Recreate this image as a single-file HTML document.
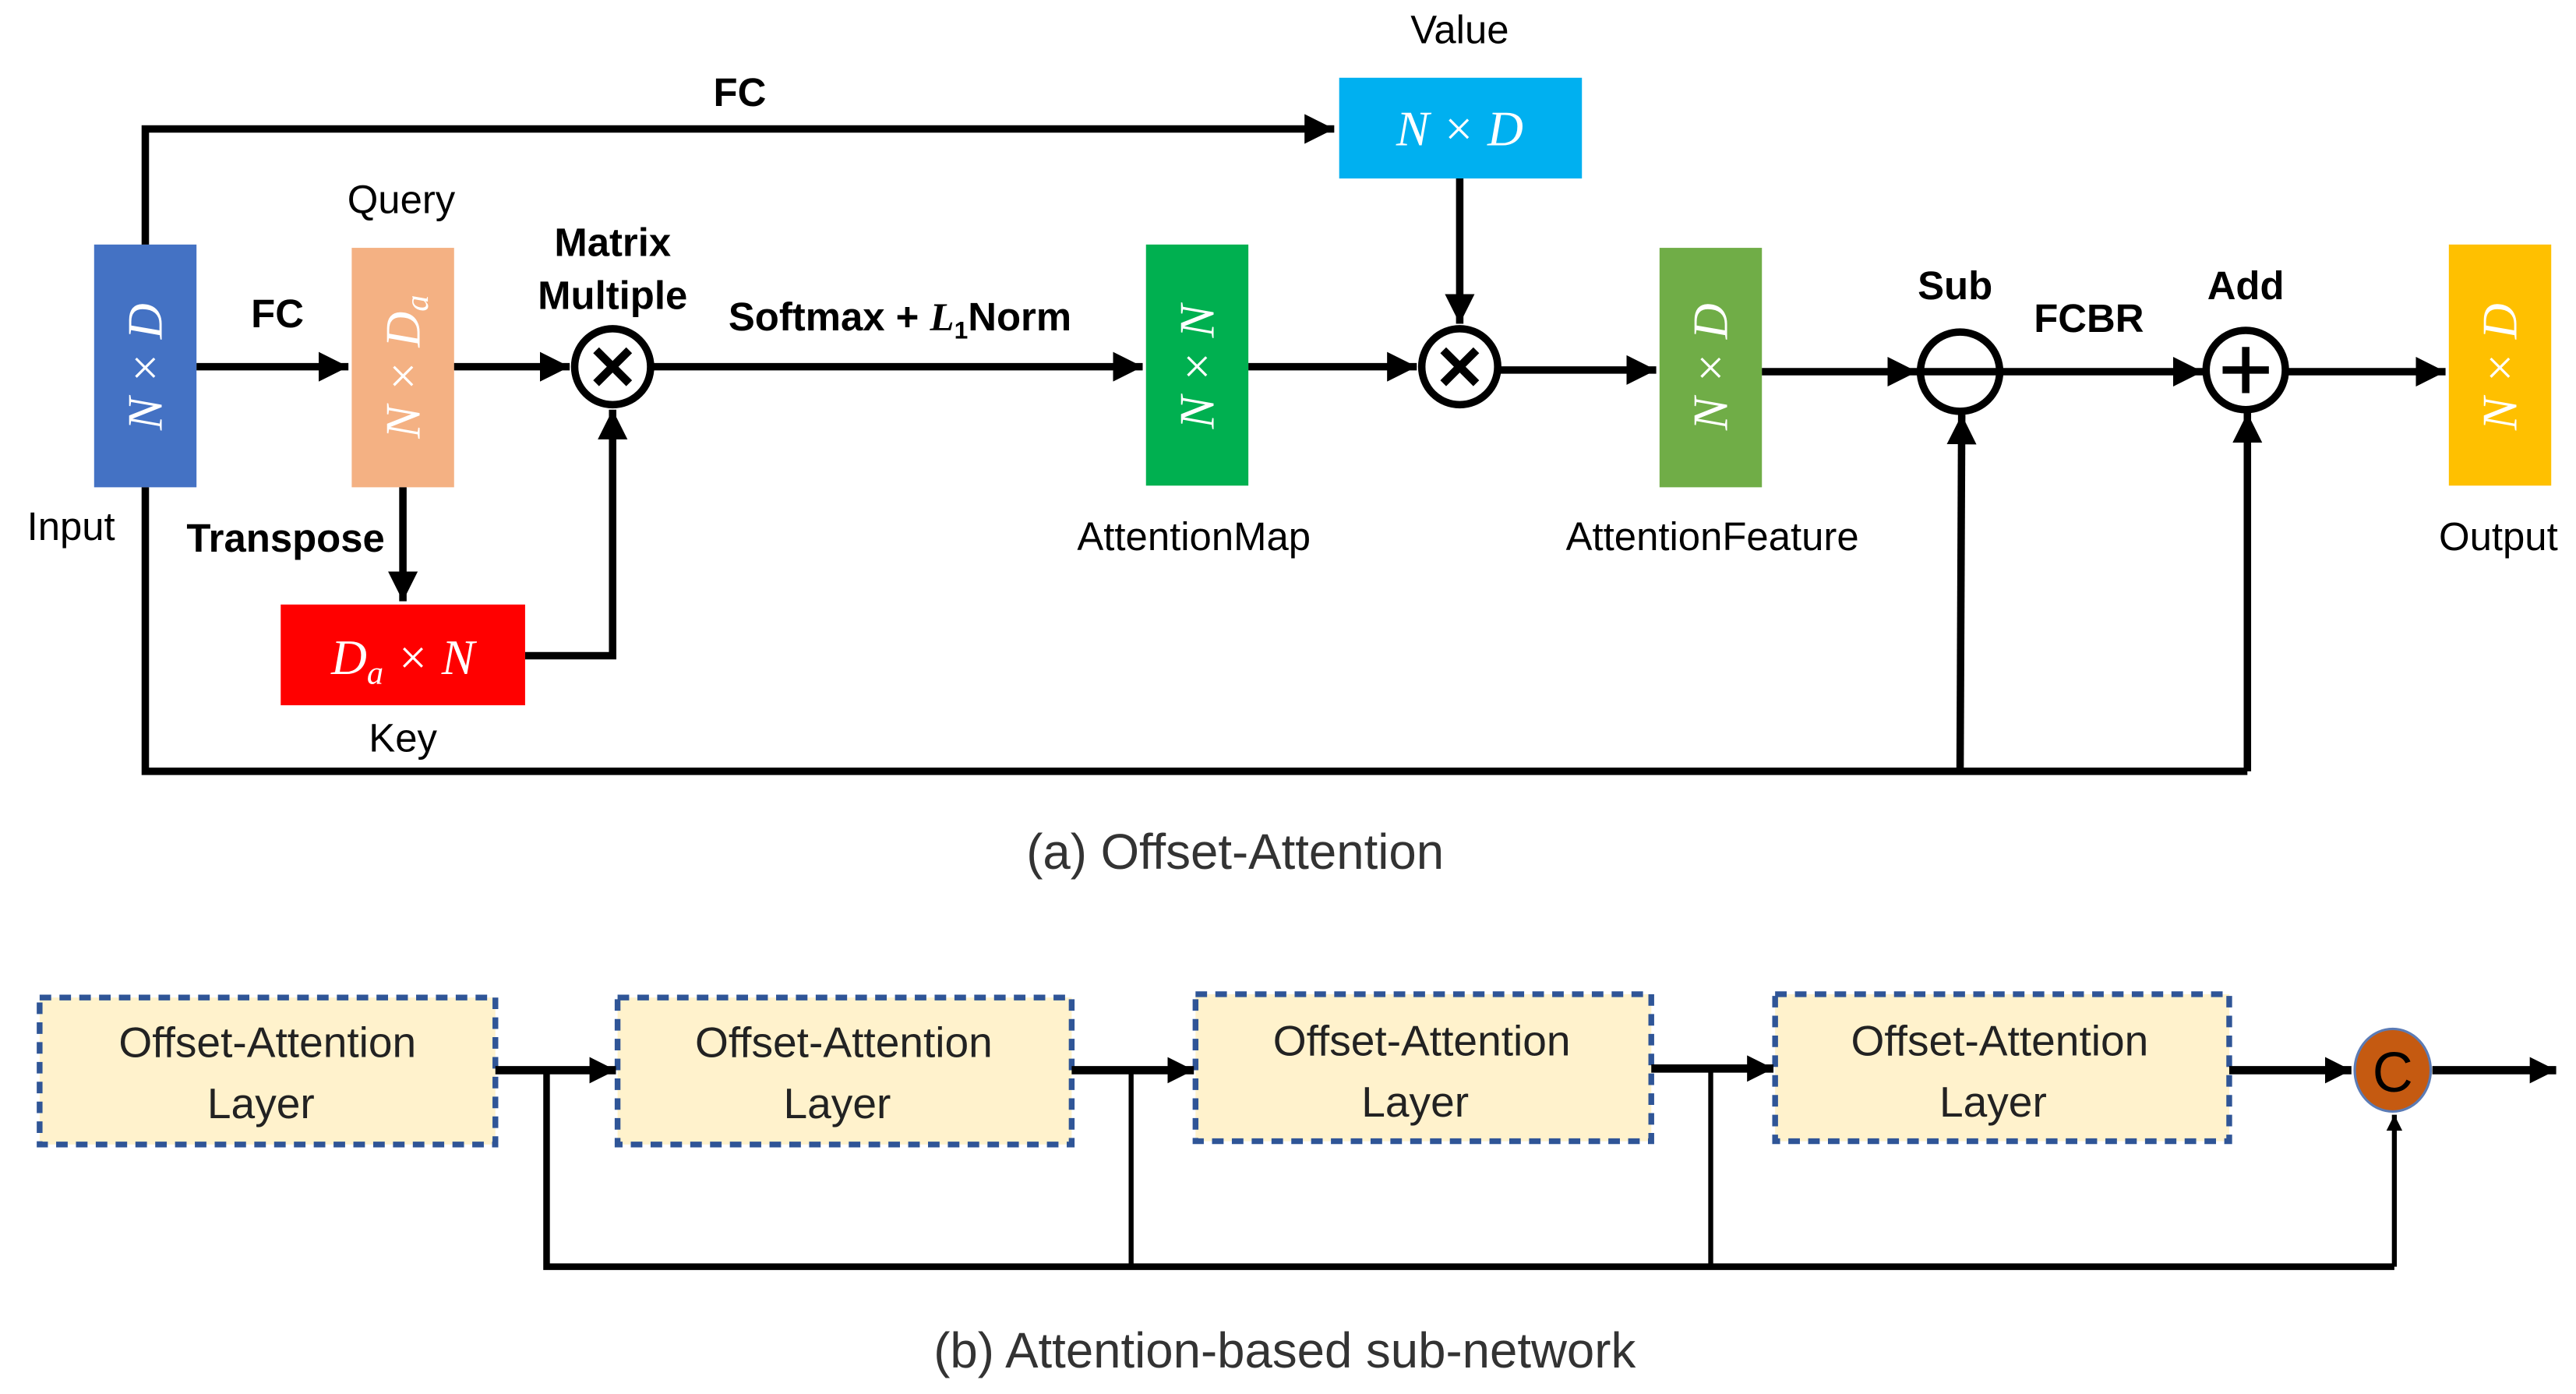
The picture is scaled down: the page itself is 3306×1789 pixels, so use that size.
<!DOCTYPE html>
<html><head><meta charset="utf-8"><style>html,body{margin:0;padding:0;background:#fff}svg{display:block}</style></head>
<body>
<svg width="3306" height="1789" viewBox="0 0 1560 844" xmlns="http://www.w3.org/2000/svg">
<defs>
<marker id="ah" viewBox="0 0 10 10" refX="10" refY="5" markerWidth="4" markerHeight="4" markerUnits="strokeWidth" orient="auto"><path d="M0,0 L10,5 L0,10 z" fill="#000"/></marker>
<marker id="ah2" viewBox="0 0 10 10" refX="10" refY="5" markerWidth="3.2" markerHeight="5" markerUnits="strokeWidth" orient="auto"><path d="M0,0 L10,5 L0,10 z" fill="#000"/></marker>
</defs>
<g font-family="Liberation Sans, sans-serif" text-anchor="middle">
<rect x="57" y="148" width="62" height="147" fill="#4472C4"/>
<rect x="213" y="150" width="62" height="145" fill="#F4B183"/>
<rect x="170" y="366" width="148" height="61" fill="#FF0000"/>
<rect x="694" y="148" width="62" height="146" fill="#00B050"/>
<rect x="811" y="47" width="147" height="61" fill="#00B0F0"/>
<rect x="1005" y="150" width="62" height="145" fill="#70AD47"/>
<rect x="1483" y="148" width="62" height="146" fill="#FFC000"/>
<g fill="#fff" font-family="Liberation Serif, serif" font-style="italic" font-size="30">
<text transform="translate(98,222) rotate(-90)">N × D</text>
<text transform="translate(254,222) rotate(-90)">N × D<tspan font-size="20" dy="5">a</tspan></text>
<text transform="translate(735,222) rotate(-90)">N × N</text>
<text transform="translate(1046,222) rotate(-90)">N × D</text>
<text transform="translate(1524,222) rotate(-90)">N × D</text>
<text x="244" y="408">D<tspan font-size="20" dy="6">a</tspan><tspan dy="-6"> × N</tspan></text>
<text x="884" y="88">N × D</text>
</g>
<g stroke="#000" stroke-width="4.5" fill="none">
<polyline points="88,148 88,78 808,78" marker-end="url(#ah)"/>
<line x1="119" y1="222" x2="211" y2="222" marker-end="url(#ah)"/>
<line x1="275" y1="222" x2="345" y2="222" marker-end="url(#ah)"/>
<line x1="395" y1="222" x2="692" y2="222" marker-end="url(#ah)"/>
<line x1="756" y1="222" x2="858" y2="222" marker-end="url(#ah)"/>
<line x1="884" y1="108" x2="884" y2="196" marker-end="url(#ah)"/>
<line x1="908" y1="224" x2="1003" y2="224" marker-end="url(#ah)"/>
<line x1="1067" y1="225" x2="1161" y2="225" marker-end="url(#ah)"/>
<line x1="1211" y1="225" x2="1334" y2="225" marker-end="url(#ah)"/>
<line x1="1384" y1="225" x2="1481" y2="225" marker-end="url(#ah)"/>
<line x1="244" y1="295" x2="244" y2="364" marker-end="url(#ah)"/>
<polyline points="318,397 371,397 371,248" marker-end="url(#ah)"/>
<polyline points="88,295 88,467 1361,467"/>
<line x1="1187" y1="467" x2="1188" y2="251" marker-end="url(#ah)"/>
<line x1="1361" y1="467" x2="1361" y2="250" marker-end="url(#ah)"/>
<circle cx="371" cy="222" r="23" fill="#fff"/>
<circle cx="884" cy="222" r="23" fill="#fff"/>
<circle cx="1187" cy="225" r="24" fill="#fff"/>
<circle cx="1360" cy="224" r="24" fill="#fff"/>
<path d="M361,212 L381,232 M381,212 L361,232 M874,212 L894,232 M894,212 L874,232" stroke-width="5"/>
<path d="M1163,225 L1211,225 M1346,224 L1374,224 M1360,210 L1360,238"/>
</g>
<g font-size="24" fill="#000">
<text x="448" y="64" font-weight="bold">FC</text>
<text x="884" y="26">Value</text>
<text x="243" y="129">Query</text>
<text x="371" y="155" font-weight="bold">Matrix</text>
<text x="371" y="187" font-weight="bold">Multiple</text>
<text x="168" y="198" font-weight="bold">FC</text>
<text x="545" y="200" font-weight="bold">Softmax + <tspan font-family="Liberation Serif, serif" font-style="italic">L</tspan><tspan font-size="15" dy="5">1</tspan><tspan dy="-5">Norm</tspan></text>
<text x="43" y="327">Input</text>
<text x="173" y="334" font-weight="bold">Transpose</text>
<text x="244" y="455">Key</text>
<text x="723" y="333">AttentionMap</text>
<text x="1037" y="333">AttentionFeature</text>
<text x="1184" y="181" font-weight="bold">Sub</text>
<text x="1265" y="201" font-weight="bold">FCBR</text>
<text x="1360" y="181" font-weight="bold">Add</text>
<text x="1513" y="333">Output</text>
</g>
<text x="748" y="526" font-size="30" fill="#333">(a) Offset-Attention</text>
<g fill="#FFF2CC" stroke="#2F5597" stroke-width="3.5" stroke-dasharray="7,5">
<rect x="24" y="604" width="276" height="89"/>
<rect x="374" y="604" width="275" height="89"/>
<rect x="724" y="602" width="276" height="89"/>
<rect x="1075" y="602" width="275" height="89"/>
</g>
<g font-size="26" fill="#222">
<text x="162" y="640">Offset-Attention</text><text x="158" y="677">Layer</text>
<text x="511" y="640">Offset-Attention</text><text x="507" y="677">Layer</text>
<text x="861" y="639">Offset-Attention</text><text x="857" y="676">Layer</text>
<text x="1211" y="639">Offset-Attention</text><text x="1207" y="676">Layer</text>
</g>
<g stroke="#000" fill="none">
<line x1="300" y1="648" x2="373" y2="648" stroke-width="5" marker-end="url(#ah2)"/>
<line x1="649" y1="648" x2="723" y2="648" stroke-width="5" marker-end="url(#ah2)"/>
<line x1="1000" y1="647" x2="1074" y2="647" stroke-width="5" marker-end="url(#ah2)"/>
<line x1="1350" y1="648" x2="1424" y2="648" stroke-width="5" marker-end="url(#ah2)"/>
<line x1="1473" y1="648" x2="1548" y2="648" stroke-width="5" marker-end="url(#ah2)"/>
<polyline points="331,648 331,767 1450,767" stroke-width="4"/>
<line x1="685" y1="648" x2="685" y2="767" stroke-width="3"/>
<line x1="1036" y1="647" x2="1036" y2="767" stroke-width="3"/>
<line x1="1450" y1="767" x2="1450" y2="675" stroke-width="3" marker-end="url(#ah2)"/>
</g>
<ellipse cx="1449" cy="648" rx="23" ry="25" fill="#C55A11" stroke="#5B7BB5" stroke-width="1.5"/>
<text x="1449" y="661" font-size="34" fill="#000">C</text>
<text x="778" y="828" font-size="30" fill="#333">(b) Attention-based sub-network</text>
</g>
</svg>
</body></html>
